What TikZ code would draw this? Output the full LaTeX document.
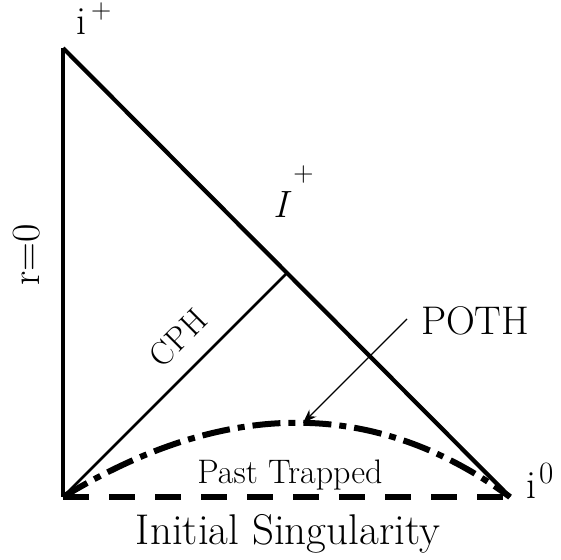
\documentclass[tikz,border=0pt]{standalone}
\usepackage{fontspec}
\usetikzlibrary{arrows.meta}
\tikzset{
  thickline/.style={line width=4.2pt},
  cphline/.style={line width=2.8pt},
  singline/.style={line width=5.5pt, dash pattern=on 26pt off 20pt},
  pothline/.style={line width=6pt, dash pattern=on 28pt off 8pt on 7pt off 8pt},
  pointer/.style={line width=1.2pt, -{Stealth[length=14pt,width=10pt]}},
  lbl/.style={inner sep=0pt, outer sep=0pt}
}
\begin{document}
\begin{tikzpicture}[x=1pt,y=-1pt]
\useasboundingbox (0,0) rectangle (561,559);
% key points
\coordinate (top) at (63,48);
\coordinate (bl) at (63,497);
\coordinate (br) at (510,497);
\coordinate (cphend) at (287,273);
\coordinate (arrstart) at (407,319);
\coordinate (arrend) at (303,423);
% lines
\draw[thickline, line cap=butt] (top) -- (bl);
\draw[thickline] (top) -- (br);
\draw[cphline] (bl) -- (cphend);
\draw[singline] (bl) -- (br);
\draw[pothline] (bl) .. controls (226,398) and (375,398) .. (br);
\draw[pointer] (arrstart) -- (arrend);
% labels
\node[lbl, anchor=base west] (iplus) at (76,35)
  {\fontsize{40}{40}\selectfont i\hspace{5pt}\raisebox{16pt}[26pt]{\fontsize{28}{28}\selectfont +}};
\node[lbl, anchor=base west] (Iplus) at (273,217)
  {\fontsize{38}{38}\selectfont\itshape I\hspace{6pt}\raisebox{36pt}{\fontsize{28}{28}\selectfont\upshape +}};
\node[lbl, anchor=base west] (izero) at (526,498)
  {\fontsize{40}{40}\selectfont i\hspace{3pt}\raisebox{15pt}{\fontsize{31}{31}\selectfont 0}};
\node[lbl, rotate=90] (rzero) at (27,255) {\fontsize{40}{40}\selectfont r=0};
\node[lbl, rotate=45] (cph) at (178,338) {\fontsize{33}{33}\selectfont CPH};
\node[lbl, anchor=base west] (poth) at (421,334) {\fontsize{40}{40}\selectfont POTH};
\node[lbl, anchor=base] (past) at (290,483) {\fontsize{34}{34}\selectfont Past Trapped};
\node[lbl, anchor=base] (sing) at (288,544) {\fontsize{43}{43}\selectfont Initial Singularity};
\end{tikzpicture}
\end{document}
